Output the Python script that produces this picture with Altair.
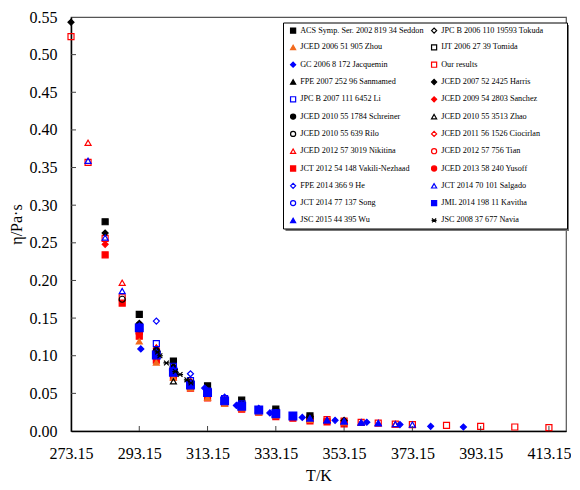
import altair as alt
import pandas as pd

# ---- legend entries, as read row by row in the reference ----
names = [
    "ACS Symp. Ser. 2002 819 34 Seddon", "JPC B 2006 110 19593 Tokuda",
    "JCED 2006 51 905 Zhou", "IJT 2006 27 39 Tomida",
    "GC 2006 8 172 Jacquemin", "Our results",
    "FPE 2007 252 96 Sanmamed", "JCED 2007 52 2425 Harris",
    "JPC B 2007 111 6452 Li", "JCED 2009 54 2803 Sanchez",
    "JCED 2010 55 1784 Schreiner", "JCED 2010 55 3513 Zhao",
    "JCED 2010 55 639 Rilo", "JCED 2011 56 1526 Ciocirlan",
    "JCED 2012 57 3019 Nikitina", "JCED 2012 57 756 Tian",
    "JCT 2012 54 148 Vakili-Nezhaad", "JCED 2013 58 240 Yusoff",
    "FPE 2014 366 9 He", "JCT 2014 70 101 Salgado",
    "JCT 2014 77 137 Song", "JML 2014 198 11 Kavitha",
    "JSC 2015 44 395 Wu", "JSC 2008 37 677 Navia",
]
ORANGE = "#F26A1E"
strokes = ["black", "black", ORANGE, "black", "blue", "red", "black", "black",
           "blue", "red", "black", "black", "black", "red", "red", "red",
           "red", "red", "blue", "blue", "blue", "blue", "blue", "black"]
T_ = "transparent"
fills = ["black", T_, ORANGE, T_, "blue", T_, "black", "black",
         T_, "red", "black", T_, T_, T_, T_, T_,
         "red", "red", T_, T_, T_, "blue", "blue", "black"]
ASTER = "M-0.8,-0.8L0.8,0.8M-0.8,0.8L0.8,-0.8M-1,0L1,0"
shapes = ["square", "diamond", "triangle-up", "square", "diamond", "square",
          "triangle-up", "diamond", "square", "diamond", "circle", "triangle-up",
          "circle", "diamond", "triangle-up", "circle", "square", "circle",
          "diamond", "triangle-up", "circle", "square", "triangle-up", ASTER]

# Vega fills legend columns top-to-bottom: reorder so the rows read as in the reference
col_order = list(range(0, 24, 2)) + list(range(1, 24, 2))
dom = [names[i] for i in col_order]
dom_strokes = [strokes[i] for i in col_order]
dom_fills = [fills[i] for i in col_order]
dom_shapes = [shapes[i] for i in col_order]

# ---- data (T / K, viscosity / Pa s) ----
seddon_T = [283.15, 293.15, 303.15, 313.15, 323.15, 333.15, 343.15]
seddon_v = [0.278, 0.155, 0.093, 0.060, 0.041, 0.029, 0.020]
tokuda_T = [293.15, 303.15, 313.15, 323.15, 333.15, 343.15, 353.15]
tokuda_v = [0.143, 0.085, 0.055, 0.037, 0.026, 0.019, 0.0140]
zhou_T = [293.15, 298.15, 303.15, 308.15, 313.15, 318.15, 323.15, 328.15, 333.15, 343.15, 353.15]
zhou_v = [0.119, 0.091, 0.071, 0.057, 0.044, 0.036, 0.030, 0.025, 0.021, 0.015, 0.0115]
tomida_T = [293.15, 303.15, 313.15, 323.15, 333.15]
tomida_v = [0.138, 0.082, 0.053, 0.036, 0.025]
jacq_T = [293.6, 302.9, 312.3, 321.6, 331.4, 340.9, 350.5, 359.8, 369.5, 378.5, 388.1]
jacq_v = [0.109, 0.081, 0.057, 0.034, 0.024, 0.018, 0.0142, 0.0116, 0.0085, 0.0062, 0.0053]
ours_T = [273.15, 278.15, 283.15, 288.15, 293.15, 298.15, 303.15, 308.15, 313.15,
          318.15, 323.15, 328.15, 333.15, 338.15, 343.15, 348.15, 353.15, 358.15,
          363.15, 368.15, 373.15, 383.15, 393.15, 403.15, 413.15]
ours_v = [0.524, 0.357, 0.256, 0.177, 0.133, 0.101, 0.079, 0.062, 0.050,
          0.041, 0.034, 0.028, 0.024, 0.020, 0.017, 0.015, 0.013, 0.0115,
          0.0105, 0.0092, 0.0085, 0.0076, 0.0062, 0.0053, 0.0045]
sanmamed_T = [293.15, 298.15, 303.15, 308.15, 313.15]
sanmamed_v = [0.139, 0.104, 0.081, 0.064, 0.052]
harris_T = [273.15, 283.15, 293.15, 303.15, 313.15, 323.15, 333.15, 343.15]
harris_v = [0.543, 0.263, 0.141, 0.085, 0.055, 0.037, 0.026, 0.019]
li_T = [298.15, 303.15, 308.15, 313.15, 318.15, 323.15]
li_v = [0.116, 0.086, 0.067, 0.053, 0.043, 0.036]
sanchez_T = [283.15, 293.15, 298.15, 303.15, 313.15, 323.15]
sanchez_v = [0.248, 0.134, 0.110, 0.082, 0.052, 0.035]
schreiner_T = [293.15, 298.15, 303.15, 313.15, 323.15]
schreiner_v = [0.141, 0.107, 0.084, 0.054, 0.037]
zhao_T = [293.15, 303.15, 313.15, 323.15]
zhao_v = [0.136, 0.066, 0.050, 0.034]
rilo_T = [288.15, 293.15, 298.15, 303.15, 308.15, 313.15]
rilo_v = [0.175, 0.136, 0.104, 0.081, 0.064, 0.051]
cioc_T = [293.15, 298.15, 303.15, 308.15, 313.15]
cioc_v = [0.135, 0.106, 0.083, 0.066, 0.052]
nikitina_T = [278.15, 288.15, 298.15, 308.15, 318.15, 328.15, 338.15, 348.15, 358.15, 368.15]
nikitina_v = [0.383, 0.197, 0.111, 0.066, 0.042, 0.028, 0.0205, 0.0145, 0.0115, 0.0088]
tian_T = [293.15, 298.15, 303.15, 308.15, 313.15, 318.15, 323.15]
tian_v = [0.134, 0.103, 0.080, 0.063, 0.050, 0.041, 0.034]
vakili_T = [283.15, 288.15, 293.15, 298.15, 303.15, 308.15, 313.15, 318.15, 323.15,
            328.15, 333.15, 338.15, 343.15, 348.15, 353.15]
vakili_v = [0.234, 0.170, 0.126, 0.094, 0.072, 0.057, 0.044, 0.037, 0.029,
            0.025, 0.019, 0.017, 0.0135, 0.012, 0.0095]
yusoff_T = [293.15, 298.15, 303.15, 308.15, 313.15, 318.15, 323.15, 328.15, 333.15,
            338.15, 343.15, 348.15, 353.15]
yusoff_v = [0.130, 0.097, 0.076, 0.060, 0.048, 0.039, 0.032, 0.027, 0.022,
            0.0185, 0.016, 0.0135, 0.012]
he_T = [298.15, 308.15, 318.15, 328.15]
he_v = [0.146, 0.076, 0.045, 0.030]
salgado_T = [278.15, 283.15, 288.15, 293.15, 298.15, 303.15, 308.15, 313.15, 318.15, 323.15,
             328.15, 333.15, 338.15, 343.15, 348.15, 353.15, 358.15, 363.15, 368.15, 373.15]
salgado_v = [0.359, 0.257, 0.186, 0.140, 0.105, 0.082, 0.064, 0.052, 0.042, 0.035,
             0.029, 0.024, 0.020, 0.017, 0.0145, 0.013, 0.0115, 0.0105, 0.0092, 0.0085]
song_T = [293.15, 303.15, 313.15, 323.15, 333.15]
song_v = [0.138, 0.079, 0.051, 0.034, 0.024]
kavitha_T = [293.15, 298.15, 303.15, 308.15, 313.15, 318.15, 323.15, 328.15, 333.15, 338.15]
kavitha_v = [0.137, 0.101, 0.078, 0.061, 0.051, 0.040, 0.033, 0.028, 0.023, 0.020]
wu_T = [293.15, 298.15, 303.15, 308.15, 313.15, 318.15, 323.15, 328.15, 333.15, 338.15,
        343.15, 348.15, 353.15, 358.15, 363.15]
wu_v = [0.139, 0.102, 0.079, 0.062, 0.051, 0.041, 0.034, 0.029, 0.024, 0.020,
        0.017, 0.0142, 0.0128, 0.0113, 0.0105]
navia_T = [298.5, 299.2, 301.1, 303.7, 305.1, 307.1, 308.3]
navia_v = [0.105, 0.100, 0.0904, 0.079, 0.075, 0.068, 0.0638]

x_ticks = [273.15, 293.15, 313.15, 333.15, 353.15, 373.15, 393.15, 413.15]
y_ticks = [0.00, 0.05, 0.10, 0.15, 0.20, 0.25, 0.30, 0.35, 0.40, 0.45, 0.50, 0.55]

# drawing order: red/orange first, then black, then blue on top
draw = [
    ("Our results", ours_T, ours_v),
    ("JCT 2012 54 148 Vakili-Nezhaad", vakili_T, vakili_v),
    ("JCED 2013 58 240 Yusoff", yusoff_T, yusoff_v),
    ("JCED 2006 51 905 Zhou", zhou_T, zhou_v),
    ("JCED 2009 54 2803 Sanchez", sanchez_T, sanchez_v),
    ("JCED 2011 56 1526 Ciocirlan", cioc_T, cioc_v),
    ("JCED 2012 57 3019 Nikitina", nikitina_T, nikitina_v),
    ("JCED 2012 57 756 Tian", tian_T, tian_v),
    ("ACS Symp. Ser. 2002 819 34 Seddon", seddon_T, seddon_v),
    ("JPC B 2006 110 19593 Tokuda", tokuda_T, tokuda_v),
    ("IJT 2006 27 39 Tomida", tomida_T, tomida_v),
    ("FPE 2007 252 96 Sanmamed", sanmamed_T, sanmamed_v),
    ("JCED 2007 52 2425 Harris", harris_T, harris_v),
    ("JCED 2010 55 1784 Schreiner", schreiner_T, schreiner_v),
    ("JCED 2010 55 3513 Zhao", zhao_T, zhao_v),
    ("JCED 2010 55 639 Rilo", rilo_T, rilo_v),
    ("JPC B 2007 111 6452 Li", li_T, li_v),
    ("JCT 2014 77 137 Song", song_T, song_v),
    ("FPE 2014 366 9 He", he_T, he_v),
    ("JML 2014 198 11 Kavitha", kavitha_T, kavitha_v),
    ("JSC 2015 44 395 Wu", wu_T, wu_v),
    ("GC 2006 8 172 Jacquemin", jacq_T, jacq_v),
    ("JCT 2014 70 101 Salgado", salgado_T, salgado_v),
    ("JSC 2008 37 677 Navia", navia_T, navia_v),
]
rows = []
for name, ts, vs in draw:
    for t, v in zip(ts, vs):
        rows.append({"T": t, "v": v, "source": name,
                     "sz": 60 if name.startswith("JML") else 36})
df = pd.DataFrame(rows)

W, H = 495, 414
FONT = "Liberation Serif"
xs = alt.Scale(domain=[273.15, 418.15], nice=False, zero=False)
ys = alt.Scale(domain=[0, 0.55], nice=False, zero=False)

x_axis = alt.Axis(values=x_ticks, format=".2f", title="T/K", tickSize=0,
                  labelPadding=14, titlePadding=6, grid=False, labelOverlap=False,
                  labelFlush=False)
y_axis = alt.Axis(values=y_ticks, format=".2f", title="η/Pa·s", tickSize=0,
                  labelPadding=14, titlePadding=5, grid=False, labelOverlap=False,
                  labelFlush=False)

legend = alt.Legend(
    title=None, orient="none", legendX=214, legendY=5, columns=2,
    labelFont=FONT, labelFontSize=8.2, labelColor="black", labelLimit=0,
    symbolSize=26, symbolStrokeWidth=1.2, rowPadding=6.3, columnPadding=5,
    padding=4, labelOffset=3,
)

# legend frame (with a light drop shadow), drawn under the legend
frame_shadow = alt.Chart(pd.DataFrame({"k": [0]})).mark_rect(
    fill="#777", stroke=None).encode(
    x=alt.value(214.5), x2=alt.value(498), y=alt.value(8), y2=alt.value(214))
frame = alt.Chart(pd.DataFrame({"k": [0]})).mark_rect(
    fill="white", stroke="black", strokeWidth=1).encode(
    x=alt.value(212.5), x2=alt.value(496.5), y=alt.value(6), y2=alt.value(212))

points = alt.Chart(df).mark_point(strokeWidth=1.2, opacity=1).encode(
    x=alt.X("T:Q", scale=xs, axis=x_axis),
    y=alt.Y("v:Q", scale=ys, axis=y_axis),
    shape=alt.Shape("source:N", scale=alt.Scale(domain=dom, range=dom_shapes), legend=legend),
    stroke=alt.Stroke("source:N", scale=alt.Scale(domain=dom, range=dom_strokes), legend=legend),
    fill=alt.Fill("source:N", scale=alt.Scale(domain=dom, range=dom_fills), legend=legend),
    size=alt.Size("sz:Q", scale=None),
)

xtick_df = pd.DataFrame({"T": x_ticks[1:]})
ytick_df = pd.DataFrame({"v": y_ticks[1:-1]})
xrules = alt.Chart(xtick_df).mark_rule(color="#444", strokeWidth=1).encode(
    x=alt.X("T:Q", scale=xs, axis=x_axis), y=alt.value(H), y2=alt.value(H - 5))
yrules = alt.Chart(ytick_df).mark_rule(color="#444", strokeWidth=1).encode(
    y=alt.Y("v:Q", scale=ys, axis=y_axis), x=alt.value(0), x2=alt.value(5))

chart = alt.layer(points, xrules, yrules, frame_shadow, frame).properties(
    width=W, height=H,
    padding={"left": 0, "top": 1, "right": 0, "bottom": 0},
).configure_view(stroke="#555", strokeWidth=1.2).configure_axis(
    labelFont=FONT, labelFontSize=16, labelColor="black",
    titleFont=FONT, titleFontSize=16, titleFontWeight="normal", titleColor="black",
    domainColor="black", domainWidth=1.5,
)

chart.save("out.html", embed_options={"renderer": "svg", "actions": False})
